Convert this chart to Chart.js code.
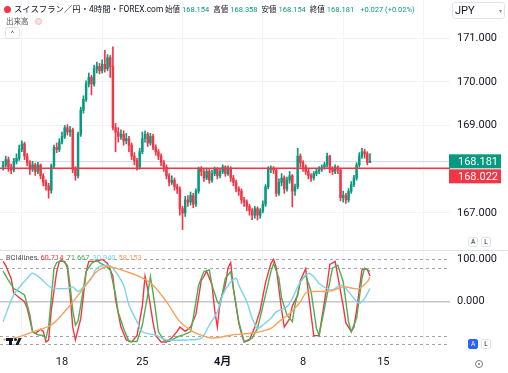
<!DOCTYPE html>
<html lang="ja">
<head>
<meta charset="UTF-8">
<title>スイスフラン／円・4時間・FOREX.com</title>
<script src="https://cdn.jsdelivr.net/npm/chart.js@4.4.1/dist/chart.umd.min.js"></script>
<style>
  body { margin: 0; background: #fff; font-family: Roboto, "Noto Sans CJK JP", sans-serif; color: #131722; }
  .wrap { position: relative; width: 508px; height: 373px; overflow: hidden; }
  canvas { position: absolute; left: 0; top: 0; }
  .abs { position: absolute; white-space: nowrap; }
  .title { left: 4px; top: 2px; font-size: 8.4px; line-height: 14px; }
  .title .ico { display: inline-block; width: 7px; height: 7px; border-radius: 50%; background: #f23645; margin-right: 3px; vertical-align: -1px; }
  .ohlc { left: 165px; top: 3px; font-size: 7.5px; line-height: 13px; }
  .ohlc span { margin-right: 4px; }
  .ohlc i { font-style: normal; color: #089981; margin-left: 2px; }
  .vol { left: 6px; top: 17px; font-size: 7.5px; color: #555; line-height: 10px; }
  .eye { left: 35px; top: 18px; width: 7px; height: 7px; border-radius: 50%; background: #fbe3e4; border: 1px solid #f7b3b6; box-sizing: border-box; }
  .collapse { left: 5px; top: 27px; width: 15px; height: 12px; border: 1px solid #e0e3eb; border-radius: 3px; box-sizing: border-box; font-size: 8px; line-height: 11px; text-align: center; color: #555; }
  .jpy { left: 452px; top: 2px; width: 53px; height: 17px; border: 1px solid #e0e3eb; border-radius: 3px; box-sizing: border-box; font-size: 11px; line-height: 15px; padding-left: 2px; }
  .jpy small { position: absolute; right: 2px; top: 0; font-size: 6px; color: #888; }
  .btn { width: 10px; height: 10px; border: 1px solid #e0e3eb; border-radius: 2px; box-sizing: border-box; font-size: 6.5px; line-height: 9px; text-align: center; background: #fff; color: #131722; }
  .btn.on { background: #2962ff; border-color: #2962ff; color: #fff; }
  .legend { left: 6px; top: 253px; font-size: 7.5px; line-height: 10px; color: #555; }
  .legend span { margin-left: 3px; }
  .gear { left: 475px; top: 360px; width: 8px; height: 8px; border: 1.2px solid #787b86; border-radius: 50%; box-sizing: border-box; }
  .gear::after { content: ""; position: absolute; left: 1.6px; top: 1.6px; width: 2.4px; height: 2.4px; border-radius: 50%; background: #787b86; }
  .tv { background: #131722; }
</style>
</head>
<body>
<div class="wrap">
  <canvas id="chart" width="508" height="373"></canvas>

  <div class="abs title"><span class="ico"></span>スイスフラン／円・4時間・FOREX.com</div>
  <div class="abs ohlc"><span>始値<i>168.154</i></span><span>高値<i>168.358</i></span><span>安値<i>168.154</i></span><span>終値<i>168.181</i></span><span><i>+0.027 (+0.02%)</i></span></div>
  <div class="abs vol">出来高</div>
  <div class="abs eye"></div>
  <div class="abs collapse">^</div>
  <div class="abs jpy">JPY<small>▾</small></div>

  <div class="abs btn" style="left:468px;top:237px">A</div>
  <div class="abs btn" style="left:481px;top:237px">L</div>
  <div class="abs btn on" style="left:468px;top:339px">A</div>
  <div class="abs btn" style="left:481px;top:339px">L</div>
  <div class="abs gear"></div>

  <div class="abs legend">RCI4lines<span style="color:#f23645">60.714</span><span style="color:#4caf50">71.667</span><span style="color:#7fd3e8">30.940</span><span style="color:#f5a25d">58.153</span></div>

  <!-- tradingview mark -->
  <div class="abs tv" style="left:6px;top:338px;width:7px;height:3px"></div>
  <div class="abs tv" style="left:9px;top:338px;width:3px;height:7px"></div>
  <div class="abs tv" style="left:14px;top:338px;width:3px;height:3px;border-radius:50%"></div>
  <div class="abs tv" style="left:17px;top:338px;width:3px;height:7px;transform:skewX(-25deg)"></div>
</div>

<script>
  // 4h candles, index 0 = first visible bar
  const open = [168.05,168.10,168.22,168.05,167.98,168.18,168.25,168.45,168.58,168.30,
    168.15,168.00,168.10,167.95,168.10,167.85,167.70,167.62,167.52,168.08,
    168.50,168.45,168.62,168.75,168.95,168.85,168.90,168.00,167.85,168.80,
    169.35,169.60,169.95,170.10,169.95,170.30,170.35,170.25,170.40,170.30,
    170.55,170.35,168.95,168.85,168.75,168.80,168.65,168.70,168.55,168.30,
    168.20,168.05,168.40,168.70,168.80,168.60,168.75,168.50,168.40,168.30,
    168.15,168.05,167.85,167.70,167.75,167.60,167.55,167.10,167.00,167.30,
    167.25,167.40,167.20,167.50,168.00,167.95,167.80,167.95,167.75,167.90,
    168.00,167.85,167.95,168.05,167.90,168.02,167.80,167.70,167.55,167.50,
    167.30,167.25,167.15,167.05,166.95,167.10,166.95,167.05,167.20,167.60,
    168.00,168.02,167.98,167.45,167.70,167.80,167.55,167.75,167.85,167.50,
    167.60,168.30,168.15,168.05,167.95,167.85,167.80,167.90,167.95,168.00,
    168.05,168.10,168.30,168.00,167.95,168.05,167.98,167.35,167.40,167.30,
    167.50,167.65,167.80,168.10,168.30,168.40,168.35,168.154];
  const high = [168.18,168.30,168.28,168.12,168.25,168.35,168.55,168.65,168.62,168.36,
    168.20,168.18,168.14,168.16,168.12,167.90,167.76,167.68,168.12,168.55,
    168.60,168.70,168.85,169.00,169.02,168.98,168.94,168.06,168.85,169.42,
    169.68,170.02,170.20,170.15,170.38,170.45,170.42,170.50,170.72,170.62,
    170.60,170.80,169.05,168.95,168.90,168.88,168.82,168.75,168.60,168.38,
    168.25,168.48,168.85,168.88,168.84,168.82,168.80,168.56,168.45,168.35,
    168.20,168.10,167.90,167.85,167.80,167.66,167.60,167.15,167.38,167.40,
    167.48,167.45,167.55,168.05,168.06,168.00,168.02,168.00,167.98,168.05,
    168.04,168.00,168.10,168.08,168.08,168.06,167.86,167.75,167.60,167.55,
    167.36,167.30,167.20,167.10,167.15,167.14,167.10,167.28,167.65,168.06,
    168.08,168.06,168.00,167.78,167.90,167.85,167.82,167.95,167.88,167.66,
    168.48,168.35,168.20,168.10,168.00,167.90,167.95,168.00,168.06,168.10,
    168.16,168.37,168.32,168.06,168.10,168.08,168.00,167.50,167.45,167.56,
    167.72,167.86,168.15,168.38,168.48,168.46,168.40,168.358];
  const low = [167.98,168.05,167.95,167.90,167.94,168.12,168.20,168.40,168.22,168.08,
    167.88,167.95,167.86,167.90,167.78,167.62,167.52,167.34,167.45,168.02,
    168.38,168.40,168.58,168.70,168.78,168.75,167.92,167.75,167.80,168.75,
    169.28,169.55,169.88,169.70,169.90,170.20,170.18,170.20,170.22,170.25,
    170.10,168.90,168.40,168.62,168.68,168.55,168.58,168.40,168.22,168.10,
    167.98,168.00,168.35,168.62,168.52,168.55,168.45,168.32,168.22,168.08,
    167.95,167.78,167.62,167.65,167.52,167.45,166.95,166.62,166.92,167.15,
    167.18,167.12,167.15,167.45,167.85,167.72,167.76,167.68,167.70,167.85,
    167.78,167.80,167.90,167.84,167.86,167.72,167.62,167.48,167.40,167.22,
    167.15,167.05,166.95,166.85,166.88,166.84,166.88,167.00,167.15,167.55,
    167.92,167.90,167.38,167.40,167.62,167.45,167.50,167.68,167.14,167.40,
    167.55,168.05,167.95,167.88,167.78,167.72,167.75,167.85,167.90,167.95,
    168.00,168.05,167.92,167.88,167.90,167.90,167.28,167.25,167.22,167.25,
    167.45,167.60,167.75,168.05,168.25,168.25,168.10,168.154];
  const close = [168.10,168.22,168.05,167.98,168.18,168.25,168.45,168.58,168.30,168.15,
    168.00,168.10,167.95,168.10,167.85,167.70,167.62,167.52,168.08,168.50,
    168.45,168.62,168.75,168.95,168.85,168.90,168.00,167.85,168.80,169.35,
    169.60,169.95,170.10,169.95,170.30,170.35,170.25,170.40,170.30,170.55,
    170.35,168.95,168.85,168.75,168.80,168.65,168.70,168.55,168.30,168.20,
    168.05,168.40,168.70,168.80,168.60,168.75,168.50,168.40,168.30,168.15,
    168.05,167.85,167.70,167.75,167.60,167.55,167.10,167.00,167.30,167.25,
    167.40,167.20,167.50,168.00,167.95,167.80,167.95,167.75,167.90,168.00,
    167.85,167.95,168.05,167.90,168.02,167.80,167.70,167.55,167.50,167.30,
    167.25,167.15,167.05,166.95,167.10,166.95,167.05,167.20,167.60,168.00,
    168.02,167.98,167.45,167.70,167.80,167.55,167.75,167.85,167.50,167.60,
    168.30,168.15,168.05,167.95,167.85,167.80,167.90,167.95,168.00,168.05,
    168.10,168.30,168.00,167.95,168.05,167.98,167.35,167.40,167.30,167.50,
    167.65,167.80,168.10,168.30,168.40,168.35,168.154,168.181];

  const rciShort = [[0,95],[1,85],[3,55],[4,20],[6,10],[8,0],[9,-15],[11,-70],[12,-75],[14,-65],[15,-70],[16,-95],[17,-90],[18,-20],[20,70],[21,95],[23,95],[24,80],[25,20],[26,-60],[27,-90],[29,-40],[31,70],[32,95],[35,95],[37,100],[39,90],[41,60],[42,5],[44,-60],[46,-90],[48,-95],[50,-80],[52,-10],[53,60],[54,30],[56,-50],[57,-80],[59,-95],[61,-95],[63,-85],[65,-70],[66,-60],[68,-70],[70,-60],[72,-30],[73,10],[74,50],[75,60],[76,72],[78,40],[79,-20],[80,-60],[81,0],[83,40],[84,80],[85,92],[86,30],[88,-50],[89,-75],[90,-95],[92,-90],[94,-60],[96,-20],[98,45],[100,90],[101,100],[102,80],[104,-20],[105,-60],[107,-40],[108,-10],[110,15],[111,50],[113,78],[114,20],[116,-80],[118,-80],[119,-40],[121,40],[122,88],[124,95],[125,60],[127,-10],[128,-50],[130,-70],[131,-60],[132,-20],[134,75],[135,78],[136,76],[137,60.714]];
  const rciMid = [[0,72],[2,50],[4,31],[6,24],[8,16],[10,-31],[11,-71],[13,-78],[15,-80],[16,-86],[17,-60],[18,10],[19,79],[20,92],[22,98],[24,86],[25,39],[26,-20],[27,-55],[28,-45],[29,-8],[31,71],[33,90],[35,98],[36,92],[38,85],[40,75],[42,16],[43,-25],[45,-63],[47,-94],[50,-94],[52,-55],[54,16],[55,59],[56,20],[57,-24],[58,-71],[60,-90],[62,-94],[65,-83],[67,-79],[70,-71],[71,-39],[73,39],[75,71],[77,75],[78,39],[80,0],[81,-8],[83,55],[85,71],[86,31],[88,-47],[90,-94],[93,-86],[95,-63],[98,16],[100,71],[101,90],[103,55],[104,8],[106,-31],[108,-47],[109,-8],[111,47],[113,63],[115,24],[117,-63],[118,-79],[121,16],[123,79],[125,86],[127,47],[129,-47],[130,-71],[132,-39],[134,55],[135,79],[137,71.667]];
  const rciLong = [[0,-47],[4,16],[9,55],[11,67],[14,55],[18,33],[24,31],[26,35],[28,24],[30,35],[33,55],[35,79],[39,86],[41,79],[45,39],[47,-8],[50,-47],[52,-71],[57,-79],[61,-90],[69,-90],[74,-86],[77,-55],[80,-24],[82,16],[85,47],[87,55],[88,39],[91,0],[93,-39],[95,-63],[97,-55],[100,-39],[102,-24],[106,-12],[108,8],[111,47],[114,67],[116,59],[118,43],[121,31],[123,28],[126,39],[128,31],[131,8],[133,-4],[135,8],[137,30.94]];
  const rciSlow = [[0,-90],[6,-83],[11,-71],[18,-55],[24,-16],[30,31],[35,71],[39,83],[42,79],[46,71],[51,59],[56,39],[61,0],[66,-47],[71,-71],[74,-79],[78,-86],[85,-79],[91,-75],[95,-72],[100,-63],[103,-47],[107,-28],[111,0],[113,20],[116,24],[122,25],[127,35],[131,31],[133,31],[136,47],[137,58.153]];

  const xTickPos = [22, 52, 82, 112, 142];
  const xTickLabels = ['18', '25', '4月', '8', '15'];
  const priceTicks = [167, 168, 169, 170, 171];
  const rciTicks = [0, 100];
  const rciGuides = [100, 80, -80, -100];
  const lastPrice = 168.181;
  const levelPrice = 168.022;

  const upColor = '#089981';
  const downColor = '#f23645';
  const gridColor = '#f0f3fa';
  const candleColors = close.map((c, i) => c >= open[i] ? upColor : downColor);

  function hline(ctx, x1, x2, y) {
    ctx.beginPath();
    ctx.moveTo(x1, y);
    ctx.lineTo(x2, y);
    ctx.stroke();
  }

  const paneDeco = {
    id: 'paneDeco',
    beforeDatasetsDraw(chart) {
      const { ctx, chartArea: a, scales: { y, y2 } } = chart;
      ctx.save();
      // rci guide lines
      ctx.strokeStyle = '#a3a6af';
      ctx.lineWidth = 1;
      ctx.setLineDash([3, 3]);
      rciGuides.forEach(v => hline(ctx, a.left, a.right, Math.round(y2.getPixelForValue(v)) + 0.5));
      ctx.setLineDash([]);
      ctx.strokeStyle = '#c4c6cc';
      ctx.lineWidth = 1.5;
      hline(ctx, a.left, a.right, y2.getPixelForValue(0));
      // pane separator
      ctx.strokeStyle = '#e0e3eb';
      ctx.lineWidth = 1;
      hline(ctx, 0, chart.width, Math.round(y.bottom) + 0.5);
      // last price line
      ctx.strokeStyle = '#d6dbe3';
      hline(ctx, a.left, a.right, Math.round(y.getPixelForValue(lastPrice)) + 0.5);
      ctx.restore();
    },
    afterDatasetsDraw(chart) {
      const { ctx, chartArea: a, scales: { y } } = chart;
      ctx.save();
      ctx.strokeStyle = downColor;
      ctx.lineWidth = 1.5;
      hline(ctx, a.left, a.right, y.getPixelForValue(levelPrice));
      ctx.restore();
    },
    afterDraw(chart) {
      const { ctx, chartArea: a, scales: { y } } = chart;
      const h = 14;
      const gy = y.getPixelForValue(lastPrice) - h / 2;
      const ry = Math.max(y.getPixelForValue(levelPrice) - h / 2, gy + h + 1);
      ctx.save();
      ctx.font = '11px Roboto';
      ctx.textBaseline = 'middle';
      [[gy, upColor, lastPrice], [ry, downColor, levelPrice]].forEach(([ty, col, val]) => {
        ctx.fillStyle = col;
        ctx.fillRect(a.right - 1, ty, 52, h);
        ctx.fillStyle = '#fff';
        ctx.fillText(val.toFixed(3), a.right + 8, ty + h / 2 + 0.5);
      });
      ctx.restore();
    }
  };

  function noPad(s) {
    s.paddingTop = 0; s.paddingBottom = 0; s.paddingLeft = 0; s.paddingRight = 0;
  }

  const rciLine = (pts, color, tension) => ({
    type: 'line',
    data: pts.map(([x, v]) => ({ x, y: v })),
    borderColor: color,
    borderWidth: 1.4,
    pointRadius: 0,
    tension: tension,
    yAxisID: 'y2',
    order: 1
  });

  new Chart(document.getElementById('chart'), {
    type: 'bar',
    data: {
      datasets: [
        {
          data: open.map((o, i) => ({ x: i, y: [low[i], high[i]] })),
          backgroundColor: candleColors,
          barThickness: 1,
          grouped: false,
          yAxisID: 'y',
          order: 4
        },
        {
          data: open.map((o, i) => ({ x: i, y: [o, close[i]] })),
          backgroundColor: candleColors,
          barThickness: 1.8,
          minBarLength: 1,
          grouped: false,
          yAxisID: 'y',
          order: 3
        },
        rciLine(rciSlow, '#f5a25d', 0.3),
        rciLine(rciLong, '#7fd3e8', 0.3),
        rciLine(rciMid, '#4caf50', 0),
        rciLine(rciShort, '#f23645', 0)
      ]
    },
    options: {
      responsive: false,
      animation: false,
      layout: { padding: 0 },
      plugins: { legend: { display: false }, tooltip: { enabled: false } },
      scales: {
        x: {
          type: 'linear',
          min: -1.158,
          max: 166.88,
          offset: false,
          border: { display: false },
          grid: { color: gridColor, drawTicks: false },
          ticks: {
            padding: 6,
            color: '#131722',
            font: ctx => ({ family: 'Roboto, "Noto Sans CJK JP"', size: 11, weight: ctx.tick && ctx.tick.value === 82 ? 'bold' : 'normal' }),
            callback: v => xTickLabels[xTickPos.indexOf(v)]
          },
          afterBuildTicks: s => { s.ticks = xTickPos.map(v => ({ value: v })); },
          afterFit: s => { s.height = 23; noPad(s); }
        },
        y: {
          position: 'right',
          stack: 'panes',
          stackWeight: 2.5,
          min: 166.154,
          max: 171.869,
          border: { display: false },
          grid: { color: gridColor, drawTicks: false },
          ticks: {
            padding: 7,
            color: '#131722',
            font: { family: 'Roboto', size: 11 },
            callback: v => Math.abs(v - lastPrice) < 0.3 ? '' : v.toFixed(3)
          },
          afterBuildTicks: s => { s.ticks = priceTicks.map(v => ({ value: v })); },
          afterFit: s => { s.width = 58; noPad(s); }
        },
        y2: {
          position: 'right',
          stack: 'panes',
          stackWeight: 1,
          min: -113.9,
          max: 121.9,
          border: { display: false },
          grid: { display: false, drawTicks: false },
          ticks: {
            padding: 7,
            color: '#131722',
            font: { family: 'Roboto', size: 11 },
            callback: v => v.toFixed(3)
          },
          afterBuildTicks: s => { s.ticks = rciTicks.map(v => ({ value: v })); },
          afterFit: s => { s.width = 58; noPad(s); }
        }
      }
    },
    plugins: [paneDeco]
  });
</script>
</body>
</html>
